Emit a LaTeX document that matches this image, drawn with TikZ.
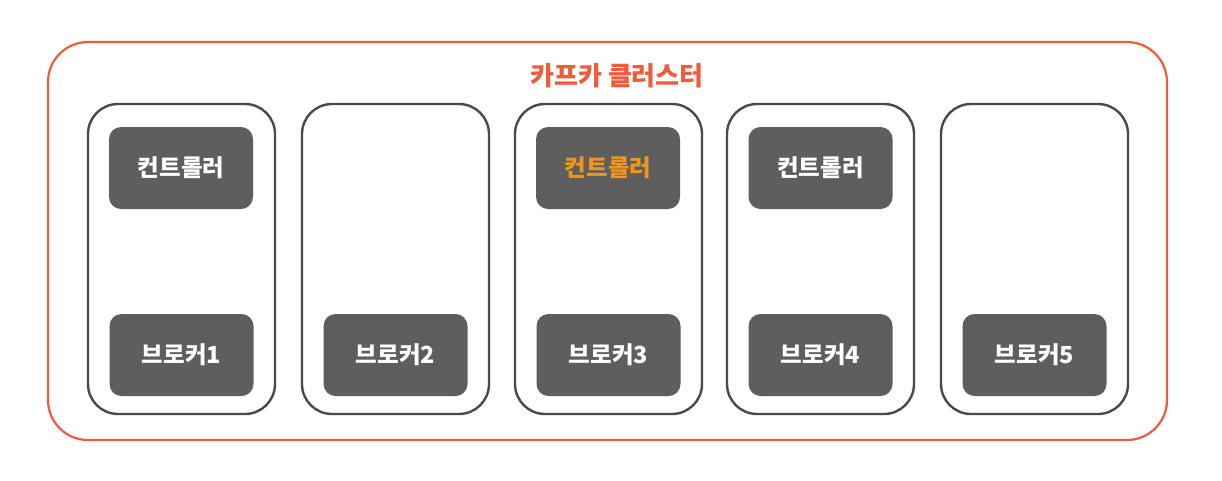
\documentclass[tikz,border=0pt]{standalone}
\usepackage{fontspec}
\newfontfamily\kr{Noto Sans CJK KR}
\definecolor{redline}{HTML}{F25A3C}
\definecolor{boxline}{HTML}{4A4A4A}
\definecolor{nodefill}{HTML}{5E5E5E}
\definecolor{orangetxt}{HTML}{F0961E}
\tikzset{
  cluster/.style={draw=redline,line width=2.2pt,rounded corners=40pt},
  brokerbox/.style={draw=boxline,line width=2.4pt,rounded corners=30pt},
  inner/.style={fill=nodefill,rounded corners=12pt,minimum width=144pt,minimum height=82pt,inner sep=0pt,
    font=\kr\bfseries\fontsize{23.5pt}{25pt}\selectfont,text=white},
}
\begin{document}
\begin{tikzpicture}[x=1pt,y=-1pt]
\useasboundingbox (0,0) rectangle (1222,480);
\draw[cluster] (48,42) rectangle (1167,440);
\node[text=redline,font=\kr\bfseries\fontsize{26pt}{28pt}\selectfont] (title) at (617,76) {카프카 클러스터};
\foreach \i/\x in {1/88,2/302,3/515,4/727,5/941}{
  \draw[brokerbox] (\x,104) rectangle ++(187,310);
  \node[inner] (b\i) at (\x+93.5,355) {브로커\i};
}
\node[inner] (c1) at (181,168) {컨트롤러};
\node[inner,text=orangetxt] (c3) at (608,168) {컨트롤러};
\node[inner] (c4) at (820.5,168) {컨트롤러};
\end{tikzpicture}
\end{document}
